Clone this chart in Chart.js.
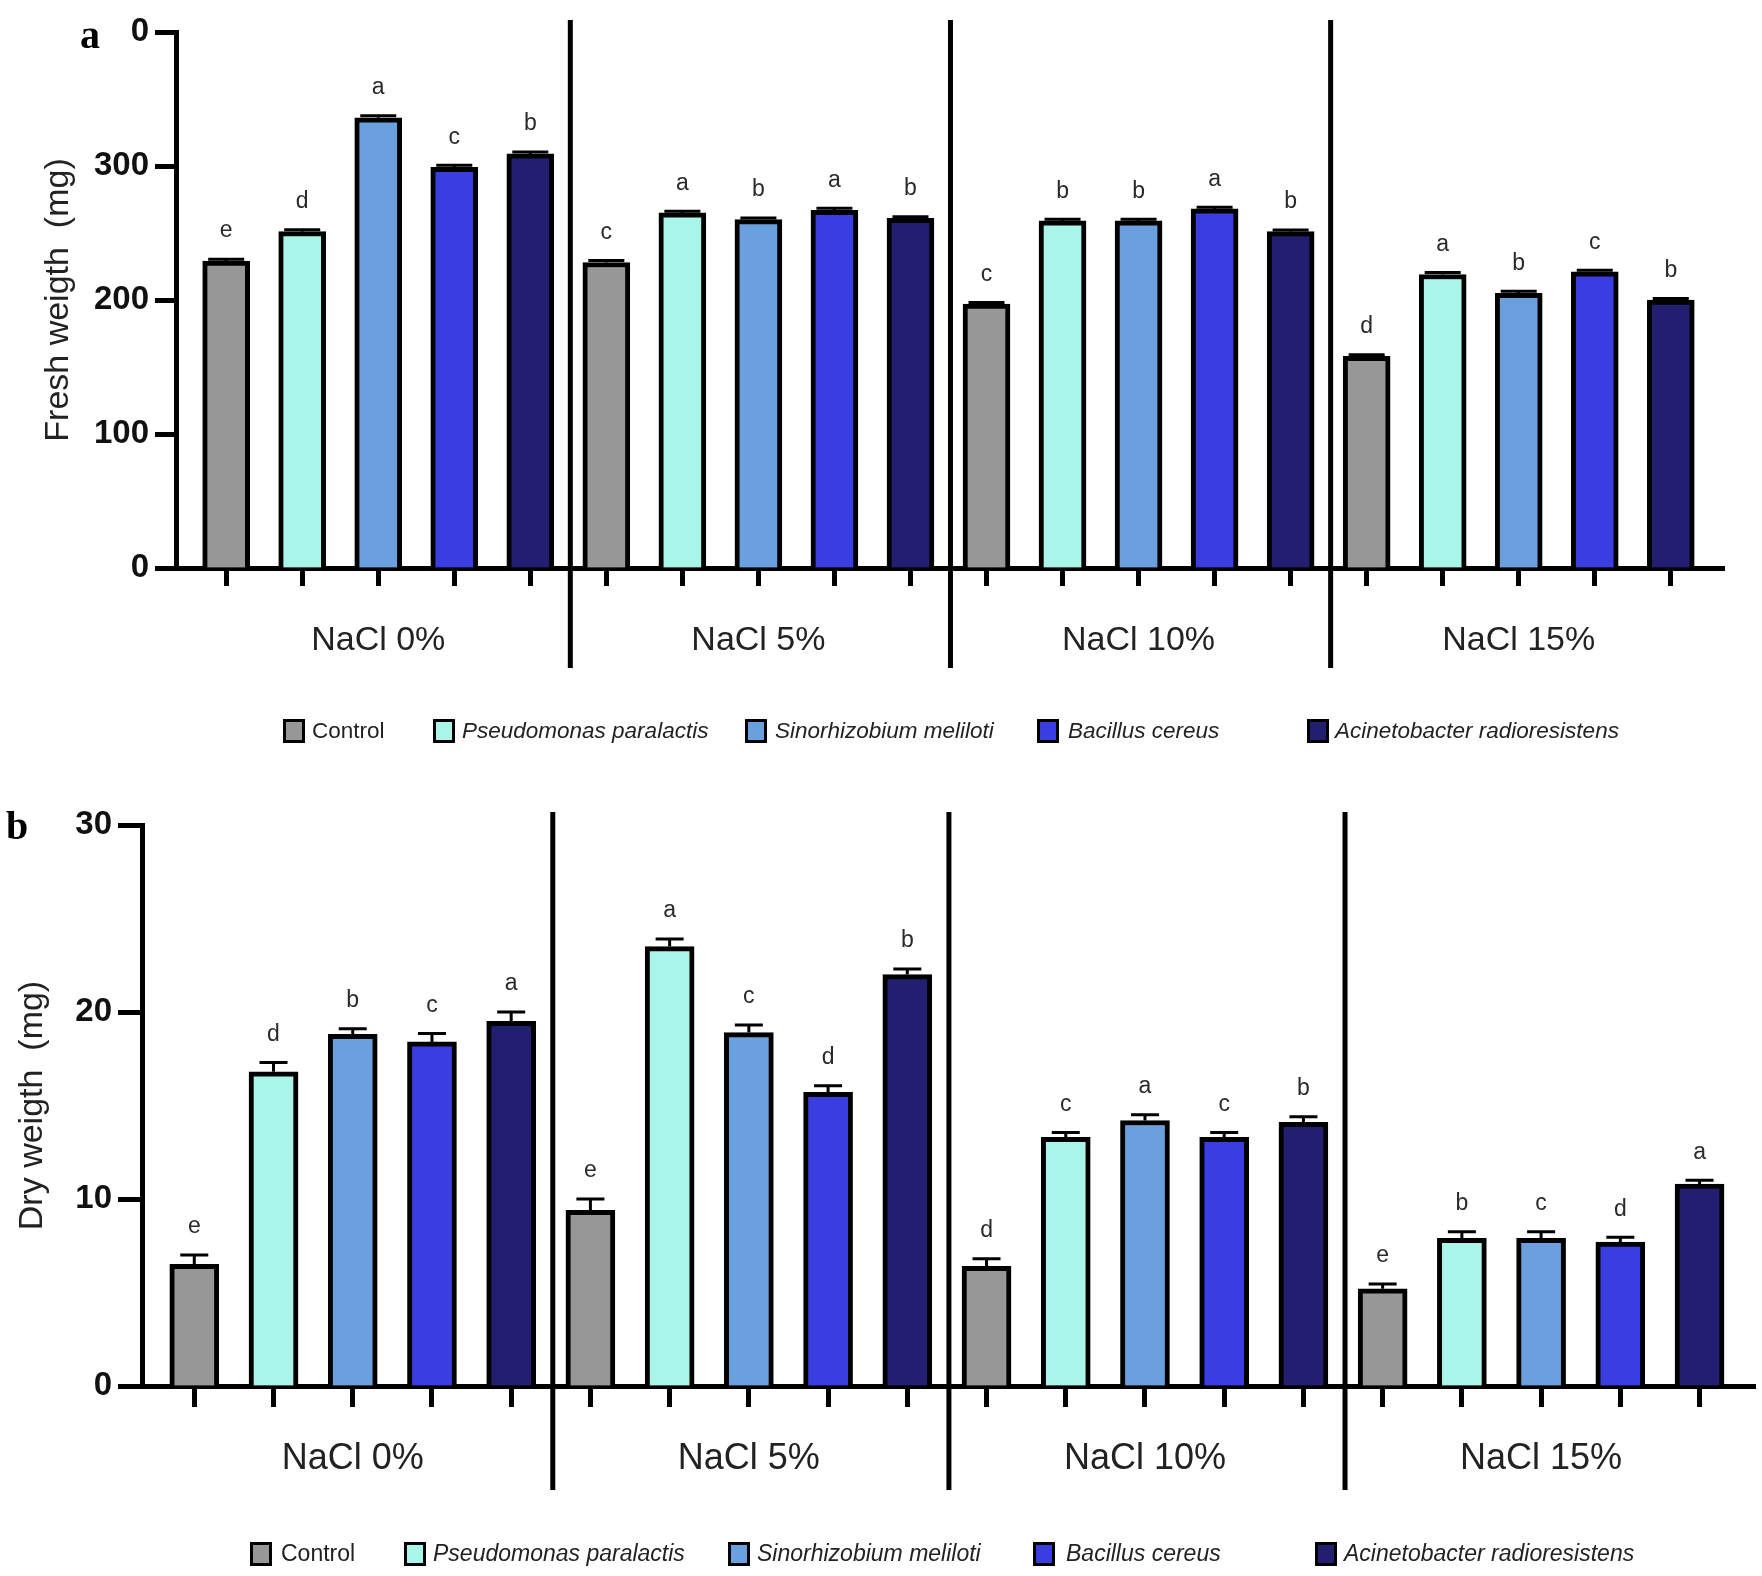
<!DOCTYPE html>
<html>
<head>
<meta charset="utf-8">
<title>Fresh and dry weight under NaCl stress</title>
<script src="https://cdn.jsdelivr.net/npm/chart.js@4.4.0/dist/chart.umd.min.js"></script>
<style>
    body { margin: 0; background: #fff; }
    #wrap { position: relative; width: 1762px; height: 1576px; }
    .panel { position: absolute; left: 0; width: 1762px; }
</style>
</head>
<body>
<div id="wrap">
    <div class="panel" style="top:0;height:780px"><canvas id="freshChart"></canvas></div>
    <div class="panel" style="top:780px;height:796px"><canvas id="dryChart"></canvas></div>
</div>
<script>
const groups = ['NaCl 0%', 'NaCl 5%', 'NaCl 10%', 'NaCl 15%'];
const strains = ['Control', 'Pseudomonas paralactis', 'Sinorhizobium meliloti', 'Bacillus cereus', 'Acinetobacter radioresistens'];
const strainColors = ['#979797', '#a9f5ea', '#6aa0dd', '#3a3ddf', '#231f70'];

// a: fresh weight (mg), per strain, for NaCl 0 / 5 / 10 / 15 %
const freshControl = [229, 228, 197, 158];
const freshPseudomonas = [251, 265, 259, 219];
const freshSinorhizobium = [336, 260, 259, 205];
const freshBacillus = [299, 267, 268, 221];
const freshAcinetobacter = [309, 261, 251, 200];
const freshErrors = [[1.5, 1.5, 1.2, 1.2], [1.5, 1.2, 1.2, 1.5], [1.5, 1.2, 1.2, 1.5], [1.5, 1.5, 1.2, 1.2], [1.5, 1.2, 1.2, 1.2]];
const freshLetters = [['e', 'c', 'c', 'd'], ['d', 'a', 'b', 'a'], ['a', 'b', 'b', 'b'], ['c', 'a', 'a', 'c'], ['b', 'b', 'b', 'b']];
const freshTicks = [0, 100, 200, 300, 400];
const freshTickLabels = ['0', '100', '200', '300', '0'];

// b: dry weight (mg)
const dryControl = [6.5, 9.4, 6.4, 5.2];
const dryPseudomonas = [16.8, 23.5, 13.3, 7.9];
const drySinorhizobium = [18.8, 18.9, 14.2, 7.9];
const dryBacillus = [18.4, 15.7, 13.3, 7.7];
const dryAcinetobacter = [19.5, 22.0, 14.1, 10.8];
const dryErrors = [[0.5, 0.6, 0.4, 0.25], [0.5, 0.4, 0.25, 0.35], [0.3, 0.4, 0.3, 0.35], [0.45, 0.35, 0.25, 0.25], [0.5, 0.3, 0.3, 0.2]];
const dryLetters = [['e', 'e', 'd', 'e'], ['d', 'a', 'c', 'b'], ['b', 'c', 'a', 'c'], ['c', 'd', 'c', 'd'], ['a', 'b', 'b', 'a']];
const dryTicks = [0, 10, 20, 30];
const dryTickLabels = ['0', '10', '20', '30'];

const SANS = '"Liberation Sans", Arial, Helvetica, sans-serif';
const SERIF = '"Liberation Serif", "Times New Roman", serif';

// error bars + significance letters above each bar
const errorBarsPlugin = {
    id: 'errorBars',
    afterDatasetsDraw(chart, args, opts) {
        const { ctx } = chart;
        const y = chart.scales.y;
        ctx.save();
        chart.data.datasets.forEach((ds, i) => {
            chart.getDatasetMeta(i).data.forEach((bar, j) => {
                const top = y.getPixelForValue(ds.data[j].y + ds.errors[j]);
                ctx.strokeStyle = '#000';
                ctx.lineWidth = opts.lineWidth;
                ctx.beginPath();
                ctx.moveTo(bar.x, bar.y);
                ctx.lineTo(bar.x, top);
                ctx.moveTo(bar.x - opts.cap / 2, top);
                ctx.lineTo(bar.x + opts.cap / 2, top);
                ctx.stroke();
                ctx.fillStyle = '#2a2a2a';
                ctx.font = opts.font;
                ctx.textAlign = 'center';
                ctx.textBaseline = 'middle';
                ctx.fillText(ds.letters[j], bar.x, top - opts.gap);
            });
        });
        ctx.restore();
    }
};

// vertical lines between the NaCl groups, panel letter and legend row
const decorPlugin = {
    id: 'decor',
    afterDraw(chart, args, opts) {
        const { ctx } = chart;
        const x = chart.scales.x;
        ctx.save();
        ctx.strokeStyle = '#000';
        ctx.lineWidth = 5;
        for (let g = 1; g < groups.length; g++) {
            const px = x.getPixelForValue(g * strains.length - 0.5) + 2;
            ctx.beginPath();
            ctx.moveTo(px, opts.sepTop);
            ctx.lineTo(px, opts.sepBottom);
            ctx.stroke();
        }

        ctx.fillStyle = '#000';
        ctx.font = 'bold 40px ' + SERIF;
        ctx.textAlign = 'left';
        ctx.textBaseline = 'alphabetic';
        ctx.fillText(opts.panel, opts.panelX, opts.panelY);

        strains.forEach((name, i) => {
            const sx = opts.squareX[i];
            ctx.fillStyle = strainColors[i];
            ctx.fillRect(sx, opts.legendY - 12, 22, 24);
            ctx.lineWidth = 3;
            ctx.strokeRect(sx + 1.5, opts.legendY - 10.5, 19, 21);
            ctx.fillStyle = '#222';
            ctx.font = (i === 0 ? '' : 'italic ') + opts.legendSize + 'px ' + SANS;
            ctx.textBaseline = 'middle';
            ctx.fillText(name, opts.textX[i], opts.legendY + 1);
        });
        ctx.restore();
    }
};

function makePanel(canvasId, series, errors, letters, ticks, tickLabels, title, lay) {
    const datasets = strains.map((name, s) => ({
        label: name,
        data: series[s].map((v, g) => ({ x: g * strains.length + s, y: v })),
        errors: errors[s],
        letters: letters[s],
        backgroundColor: strainColors[s],
        borderColor: '#000',
        borderWidth: 5,
        barThickness: lay.barWidth,
        grouped: false
    }));

    new Chart(document.getElementById(canvasId), {
        type: 'bar',
        data: { datasets: datasets },
        plugins: [errorBarsPlugin, decorPlugin],
        options: {
            responsive: true,
            maintainAspectRatio: false,
            animation: false,
            layout: { padding: { top: lay.top, left: 0, right: lay.right, bottom: 0 } },
            scales: {
                x: {
                    type: 'linear',
                    offset: false,
                    min: -0.66,
                    max: groups.length * strains.length - 0.3,
                    grid: { offset: false, drawOnChartArea: false, drawTicks: true, tickLength: lay.xTick, tickWidth: 5, tickColor: '#000' },
                    border: { display: true, width: 5, color: '#000' },
                    ticks: {
                        stepSize: 1,
                        includeBounds: false,
                        autoSkip: false,
                        maxRotation: 0,
                        padding: lay.xPad,
                        color: '#222',
                        font: { family: SANS, size: lay.groupSize },
                        callback: (value) => (value % strains.length === 2 ? groups[(value - 2) / strains.length] : '')
                    },
                    afterFit: (scale) => { scale.height = lay.xHeight; }
                },
                y: {
                    min: ticks[0],
                    max: ticks[ticks.length - 1],
                    grid: { drawOnChartArea: false, drawTicks: true, tickLength: lay.yTick, tickWidth: 5, tickColor: '#000' },
                    border: { display: true, width: 5, color: '#000' },
                    afterBuildTicks: (scale) => { scale.ticks = ticks.map(v => ({ value: v })); },
                    ticks: {
                        padding: 6,
                        color: '#111',
                        font: { family: SANS, size: 33, weight: 'bold' },
                        callback: (value, index) => tickLabels[index]
                    },
                    title: {
                        display: true,
                        text: title,
                        color: '#222',
                        font: { family: SANS, size: 34 },
                        padding: { top: lay.titlePad, bottom: 0 }
                    },
                    afterFit: (scale) => { scale.width = lay.yWidth; }
                }
            },
            plugins: {
                legend: { display: false },
                tooltip: { enabled: false },
                errorBars: { lineWidth: 3, cap: lay.cap, gap: 28, font: '23px ' + SANS },
                decor: lay.decor
            }
        }
    });
}

document.addEventListener('DOMContentLoaded', function() {
    // Panel a: fresh weight
    makePanel('freshChart',
        [freshControl, freshPseudomonas, freshSinorhizobium, freshBacillus, freshAcinetobacter],
        freshErrors, freshLetters, freshTicks, freshTickLabels, 'Fresh weigth  (mg)',
        {
            top: 32, right: 38, yWidth: 176, xHeight: 212, barWidth: 47,
            xTick: 18, yTick: 21, xPad: 34, groupSize: 34, titlePad: 38, cap: 36,
            decor: {
                sepTop: 20, sepBottom: 668, panel: 'a', panelX: 80, panelY: 48,
                legendY: 731, legendSize: 22.5,
                squareX: [283, 433, 745, 1037, 1307],
                textX: [312, 462, 775, 1068, 1335]
            }
        });

    // Panel b: dry weight
    makePanel('dryChart',
        [dryControl, dryPseudomonas, drySinorhizobium, dryBacillus, dryAcinetobacter],
        dryErrors, dryLetters, dryTicks, dryTickLabels, 'Dry weigth  (mg)',
        {
            top: 45, right: 7, yWidth: 142, xHeight: 190, barWidth: 49,
            xTick: 21, yTick: 24, xPad: 30, groupSize: 36, titlePad: 12, cap: 28,
            decor: {
                sepTop: 32, sepBottom: 710, panel: 'b', panelX: 6, panelY: 59,
                legendY: 774, legendSize: 23,
                squareX: [250, 404, 728, 1033, 1315],
                textX: [281, 433, 757, 1066, 1344]
            }
        });
});
</script>
</body>
</html>
